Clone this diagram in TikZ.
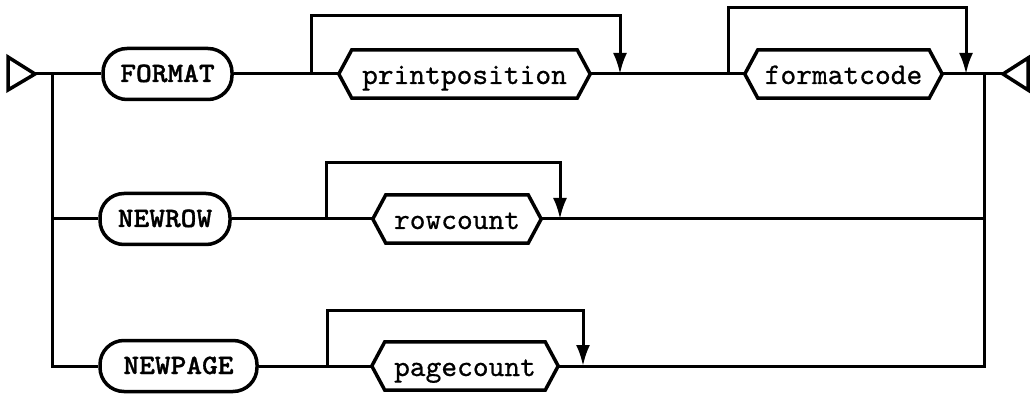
\documentclass[tikz,border=0pt]{standalone}
\usepackage{fontspec}
\newfontfamily\varfont{lmmono10-regular.otf}[FakeBold=0.6]
\newfontfamily\kwfont{lmmonolt10-bold.otf}[FakeStretch=1.07,FakeBold=1.2]
\usetikzlibrary{arrows.meta,calc}
\newcommand\hexframe[1]{\draw[hexline] (#1.west) -- ([xshift=13pt]#1.north west) -- ([xshift=-13pt]#1.north east) -- (#1.east) -- ([xshift=-13pt]#1.south east) -- ([xshift=13pt]#1.south west) -- cycle;}
\begin{document}
\begin{tikzpicture}[x=1pt,y=-1pt,
  conn/.style={line width=3pt},
  kw/.style={draw,line width=3.5pt,rounded corners=24pt,minimum height=51pt,inner sep=0pt,
    text height=20pt,text depth=4pt,font=\kwfont\fontsize{28}{32}\selectfont},
  var/.style={inner sep=0pt,minimum height=48pt,text height=24pt,text depth=4pt,
    font=\varfont\fontsize{30}{34}\selectfont},
  hexline/.style={line width=3.5pt,line join=miter},
  loopar/.style={conn,-{Latex[length=21pt,width=14pt]}}]
\fill[white] (0,0) rectangle (1030,395);
\useasboundingbox (0,0) rectangle (1030,395);

% nodes
\node[kw,minimum width=129pt] (format) at (167.5,74) {FORMAT};
\node[var,minimum width=251pt] (printpos) at (464.5,74) {printposition};
\node[var,minimum width=197pt] (fmtcode) at (843.5,74) {formatcode};
\node[kw,minimum width=130pt] (newrow) at (165,219) {NEWROW};
\node[var,minimum width=168pt] (rowcount) at (457,219) {rowcount};
\node[kw,minimum width=157pt] (newpage) at (178.5,366) {NEWPAGE};
\node[var,minimum width=186pt] (pagecount) at (465,366) {pagecount};
\hexframe{printpos}
\hexframe{fmtcode}
\hexframe{rowcount}
\hexframe{pagecount}

% coordinates
\coordinate (entry) at (35,74);
\coordinate (exit) at (1003,74);
\coordinate (jl1) at (52,74);
\coordinate (jl2) at (52,219);
\coordinate (jr1) at (984,74);
\coordinate (jr2) at (984,219);
\coordinate (ls1) at (311,74);
\coordinate (la1) at (620,74);
\coordinate (ls2) at (728,74);
\coordinate (la2) at (966,74);
\coordinate (ls3) at (326,219);
\coordinate (la3) at (560,219);
\coordinate (ls4) at (327,366);
\coordinate (la4) at (583,366);

% entry / exit triangles
\draw[hexline] (8,57) -- (entry) -- (8,90) -- cycle;
\draw[hexline] (1028,58) -- (exit) -- (1028,90) -- cycle;

% main lines
\draw[conn] (entry) -- (format.west);
\draw[conn] (jl1) |- (newpage.west);
\draw[conn] (jl2) -- (newrow.west);
\draw[conn] (format.east) -- (printpos.west);
\draw[conn] (printpos.east) -- (fmtcode.west);
\draw[conn] (fmtcode.east) -- (exit);
\draw[conn] (newrow.east) -- (rowcount.west);
\draw[conn] (rowcount.east) -- (jr2);
\draw[conn] (newpage.east) -- (pagecount.west);
\draw[conn] (pagecount.east) -| (jr1);

% loops
\draw[loopar] (ls1) -- ++(0,-58) -| (la1);
\draw[loopar] (ls2) -- ++(0,-66) -| (la2);
\draw[loopar] (ls3) -- ++(0,-56) -| (la3);
\draw[loopar] (ls4) -- ++(0,-56) -| (la4);
\end{tikzpicture}
\end{document}
